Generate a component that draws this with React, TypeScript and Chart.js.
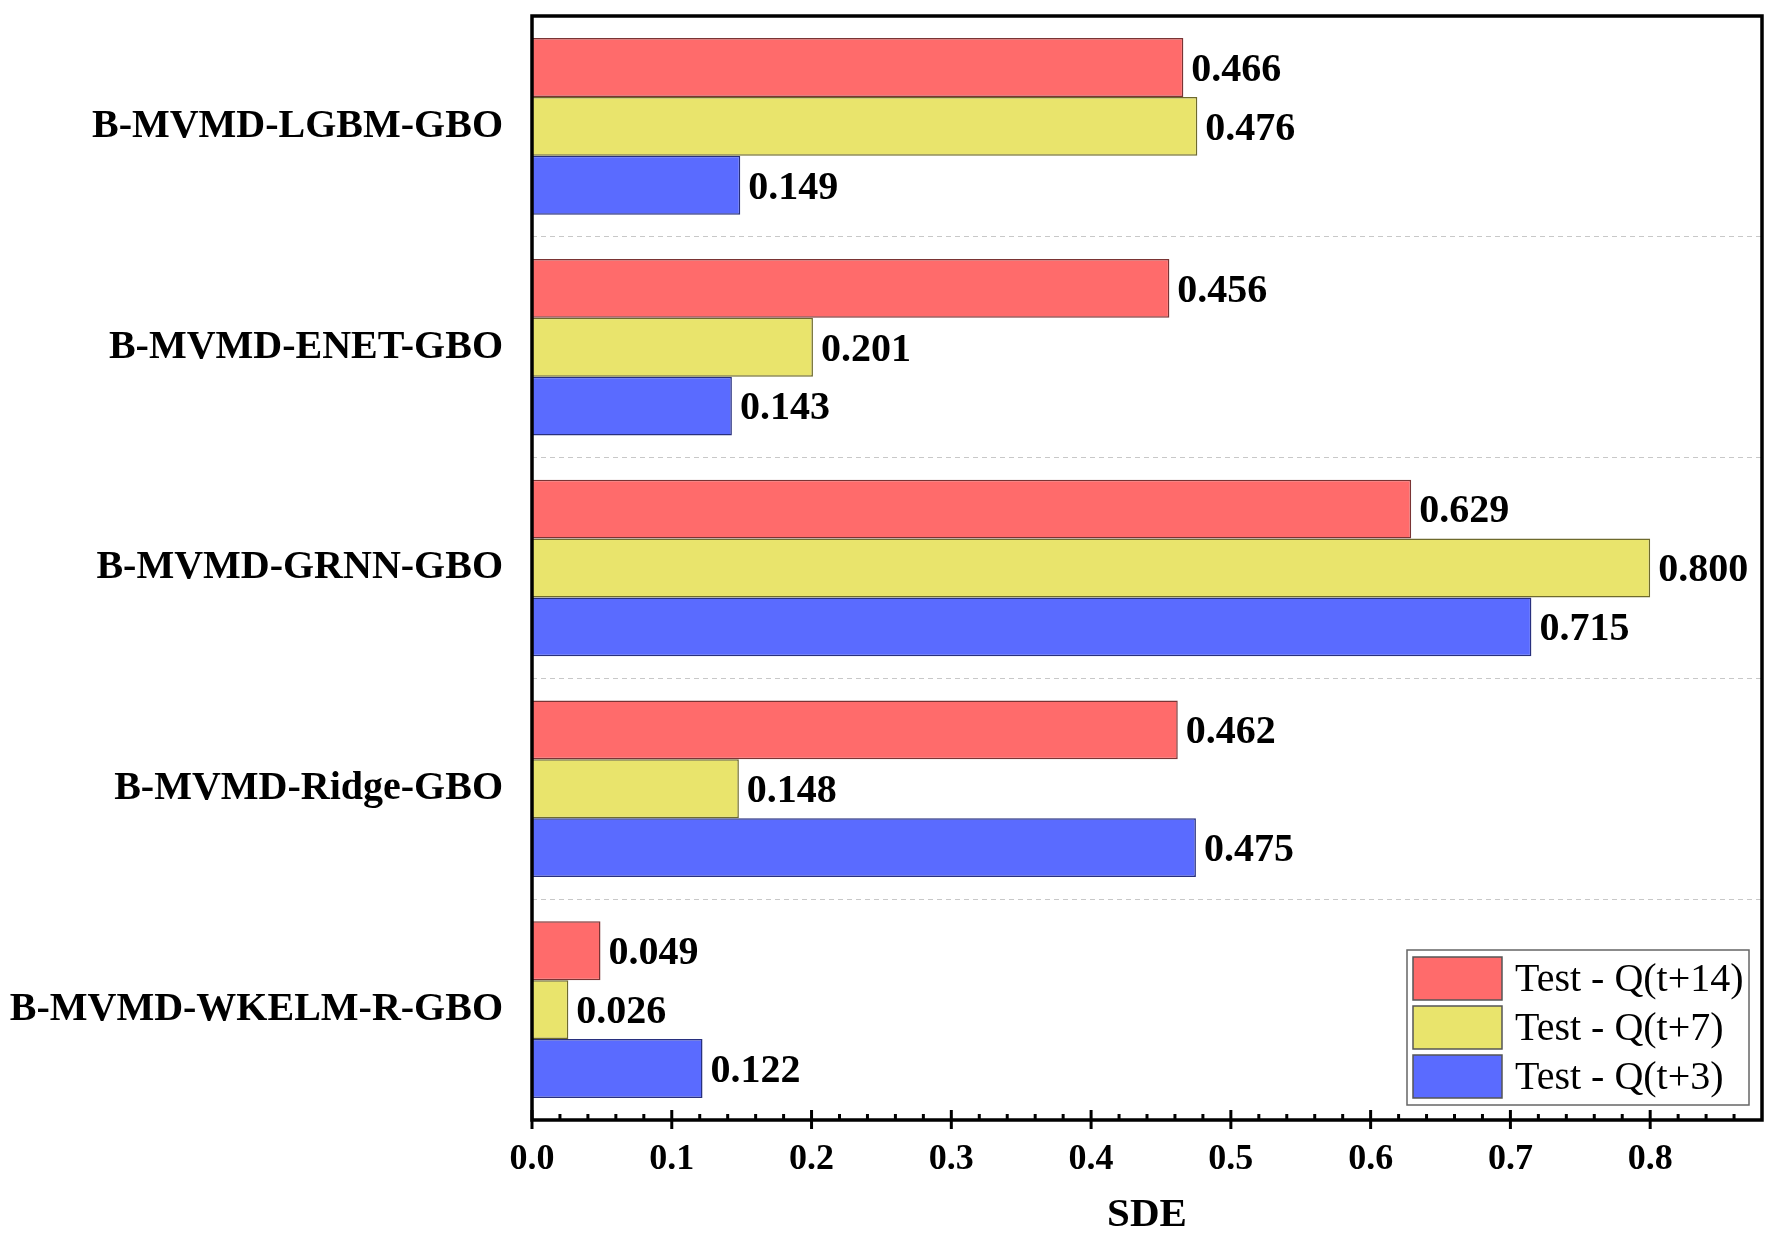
import { useEffect, useRef } from "react";
import { Chart, registerables } from "chart.js";

Chart.register(...registerables);

const categories = [
  "B-MVMD-LGBM-GBO",
  "B-MVMD-ENET-GBO",
  "B-MVMD-GRNN-GBO",
  "B-MVMD-Ridge-GBO",
  "B-MVMD-WKELM-R-GBO",
];
const seriesLabels = ["Test - Q(t+14)", "Test - Q(t+7)", "Test - Q(t+3)"];
const q14 = [0.466, 0.456, 0.629, 0.462, 0.049];
const q7 = [0.476, 0.201, 0.8, 0.148, 0.026];
const q3 = [0.149, 0.143, 0.715, 0.475, 0.122];
const majorTicks = [0, 0.1, 0.2, 0.3, 0.4, 0.5, 0.6, 0.7, 0.8];
const xMax = 0.88;

const fills = ["#FF6B6B", "#E9E46C", "#5A6BFF"];
const borders = ["#7a3434", "#6e6a2c", "#28307e"];
const FONT = '"Liberation Serif", "Times New Roman", serif';

const framePlugin = {
  id: "frame",
  afterDatasetsDraw(chart: any) {
    const ctx = chart.ctx;
    ctx.save();
    ctx.fillStyle = "#000";
    ctx.font = `bold 40px ${FONT}`;
    ctx.textAlign = "left";
    ctx.textBaseline = "middle";
    chart.data.datasets.forEach((ds: any, di: number) => {
      const meta = chart.getDatasetMeta(di);
      meta.data.forEach((bar: any, i: number) => {
        const v = ds.data[i];
        ctx.fillText(Number(v).toFixed(3), bar.x + 8, bar.y + 3);
      });
    });
    ctx.restore();
  },
  afterDraw(chart: any) {
    const ctx = chart.ctx;
    const { left, right, top, bottom } = chart.chartArea;
    const x = chart.scales.x;
    ctx.save();
    // ticks
    ctx.strokeStyle = "#000";
    ctx.lineWidth = 3;
    majorTicks.forEach((v) => {
      const px = x.getPixelForValue(v);
      ctx.beginPath();
      ctx.moveTo(px, bottom - 10);
      ctx.lineTo(px, bottom + 9);
      ctx.stroke();
    });
    for (let i = 1; i * 0.02 < xMax; i++) {
      if (i % 5 === 0) continue;
      const px = x.getPixelForValue(i * 0.02);
      ctx.beginPath();
      ctx.moveTo(px, bottom - 6);
      ctx.lineTo(px, bottom);
      ctx.stroke();
    }
    // frame
    ctx.lineWidth = 3.5;
    ctx.strokeRect(left, top, right - left, bottom - top);

    // legend
    const boxR = right - 13;
    const boxB = bottom - 15;
    const boxW = 342;
    const boxH = 155;
    const boxL = boxR - boxW;
    const boxT = boxB - boxH;
    ctx.fillStyle = "#fff";
    ctx.fillRect(boxL, boxT, boxW, boxH);
    ctx.strokeStyle = "#666";
    ctx.lineWidth = 1.5;
    ctx.strokeRect(boxL, boxT, boxW, boxH);
    ctx.font = `40px ${FONT}`;
    ctx.textAlign = "left";
    ctx.textBaseline = "middle";
    chart.data.datasets.forEach((ds: any, i: number) => {
      const sy = boxT + 7 + i * 49;
      ctx.fillStyle = ds.backgroundColor;
      ctx.fillRect(boxL + 6, sy, 89, 43);
      ctx.strokeStyle = "#555";
      ctx.lineWidth = 1.5;
      ctx.strokeRect(boxL + 6, sy, 89, 43);
      ctx.fillStyle = "#000";
      ctx.fillText(ds.label, boxL + 108, sy + 23);
    });
    ctx.restore();
  },
};

export default function App() {
  const ref = useRef<HTMLCanvasElement | null>(null);
  useEffect(() => {
    document.body.style.margin = "0";
    if (!ref.current) return;
    const series = [q14, q7, q3];
    const chart = new Chart(ref.current, {
      type: "bar",
      data: {
        labels: categories,
        datasets: series.map((d, i) => ({
          label: seriesLabels[i],
          data: d,
          backgroundColor: fills[i],
          borderColor: borders[i],
          borderWidth: 1.5,
          categoryPercentage: 0.8,
          barPercentage: 1.0,
        })),
      },
      options: {
        indexAxis: "y",
        responsive: false,
        animation: false,
        devicePixelRatio: 1,
        layout: { padding: { top: 16, right: 8, left: 0, bottom: 0 } },
        plugins: {
          legend: { display: false },
          tooltip: { enabled: false },
        },
        scales: {
          x: {
            type: "linear",
            min: 0,
            max: xMax,
            grid: { display: false, drawTicks: false },
            border: { display: false },
            ticks: {
              stepSize: 0.1,
              includeBounds: false,
              padding: 18,
              maxRotation: 0,
              autoSkip: false,
              color: "#000",
              font: { family: FONT, size: 36, weight: "bold" },
              callback: (v: any) => Number(v).toFixed(1),
            },
            title: {
              display: true,
              text: "SDE",
              color: "#000",
              font: { family: FONT, size: 41, weight: "bold", lineHeight: 1 },
              padding: { top: 0, bottom: 0 },
            },
            afterFit: (s: any) => {
              s.height = 116;
              s.paddingLeft = 0;
              s.paddingRight = 0;
            },
          },
          y: {
            type: "category",
            grid: { color: "#c8c8c8", lineWidth: 1, drawTicks: false, offset: true },
            border: { display: false, dash: [5, 4] },
            ticks: {
              padding: 29,
              autoSkip: false,
              color: "#000",
              font: { family: FONT, size: 40, weight: "bold" },
            },
            afterFit: (s: any) => {
              s.width = 532;
              s.paddingTop = 0;
              s.paddingBottom = 0;
            },
          },
        },
      },
      plugins: [framePlugin],
    } as any);
    return () => chart.destroy();
  }, []);
  return (
    <div style={{ width: 1770, height: 1236, background: "#fff" }}>
      <canvas ref={ref} width={1770} height={1236} style={{ display: "block" }} />
    </div>
  );
}
